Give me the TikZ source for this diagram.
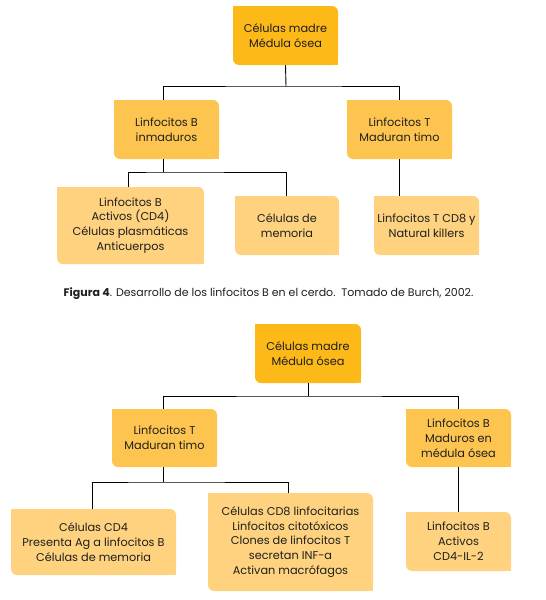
\documentclass[tikz,border=0pt]{standalone}
\usepackage{fontspec}
\setmainfont{Poppins}
\begin{document}
\begin{tikzpicture}[x=1pt,y=-1pt,
  ybox/.style={inner sep=0pt, align=center, rounded corners=6pt, font=\fontsize{11.3}{14.8}\selectfont, text=black!88},
  link/.style={draw=black, line width=0.9pt},
  capt/.style={font=\fontsize{11}{13}\selectfont, text=black!88, inner sep=0pt}]
\definecolor{lvA}{HTML}{FCB917}
\definecolor{lvB}{HTML}{FDC54F}
\definecolor{lvC}{HTML}{FED27E}
\newcommand{\mybox}[6]{%
  \node[ybox, fill=#5, minimum width=#3pt, minimum height=#4pt] (#1) at #2 {#6};
  \fill[#5] (#1.north west) rectangle ++(7pt,-7pt);
  \fill[#5] (#1.south east) rectangle ++(-7pt,7pt);
}
\useasboundingbox[fill=white] (0,0) rectangle (546,600);
% ---------- top diagram ----------
\mybox{a}{(285.5,35.5)}{105}{59}{lvA}{Células madre\\Médula ósea}
\mybox{b1}{(166.5,129.5)}{105}{59}{lvB}{Linfocitos B\\inmaduros}
\mybox{t1}{(399.5,129.5)}{105}{59}{lvB}{Linfocitos T\\Maduran timo}
\mybox{c1}{(130.5,225.5)}{147}{77}{lvC}{Linfocitos B\\Activos (CD4)\\Células plasmáticas\\Anticuerpos}
\mybox{c2}{(287,225.5)}{104}{59}{lvC}{Células de\\memoria}
\mybox{c3}{(426.5,225.5)}{105}{59}{lvC}{Linfocitos T CD8 y\\Natural killers}
\coordinate (busA) at (286,86);
\coordinate (busB) at (163,172);
\draw[link] (a.south) -- (busA);
\draw[link] ([xshift=-3.5pt]b1.north) |- (busA) -| (t1.north);
\draw[link] ([xshift=-3.5pt]b1.south) -- (busB);
\draw[link] ([xshift=-2.5pt]c1.north) |- (busB) -| ([xshift=-1pt]c2.north);
\draw[link] (t1.south) -- (t1.south |- c3.north);
\node[capt] (cap) at (268.5,294) {\textbf{Figura 4}. Desarrollo de los linfocitos B en el cerdo.\ \ Tomado de Burch, 2002.};
% ---------- bottom diagram ----------
\mybox{d}{(308,353.5)}{106}{59}{lvA}{Células madre\\Médula ósea}
\mybox{e}{(164.5,438)}{105}{58}{lvB}{Linfocitos T\\Maduran timo}
\mybox{f}{(458.5,438)}{105}{58}{lvB}{Linfocitos B\\Maduros en\\médula ósea}
\mybox{g}{(93.5,542)}{165}{66}{lvC}{Células CD4\\Presenta Ag a linfocitos B\\Células de memoria}
\mybox{h}{(290.5,542)}{165}{98}{lvC}{Células CD8 linfocitarias\\Linfocitos citotóxicos\\Clones de linfocitos T\\secretan INF-a\\Activan macrófagos}
\mybox{i}{(458.5,541.5)}{105}{59}{lvC}{Linfocitos B\\Activos\\CD4-IL-2}
\coordinate (busD) at (308,396);
\coordinate (busE) at (163,482);
\draw[link] (d.south) -- (busD);
\draw[link] ([xshift=-1.5pt]e.north) |- (busD) -| (f.north);
\draw[link] ([xshift=-1.5pt]e.south) -- (busE);
\draw[link] ([xshift=-1.5pt]g.north) |- (busE) -| ([xshift=-2.5pt]h.north);
\draw[link] (f.south) -- (i.north);
\end{tikzpicture}
\end{document}
